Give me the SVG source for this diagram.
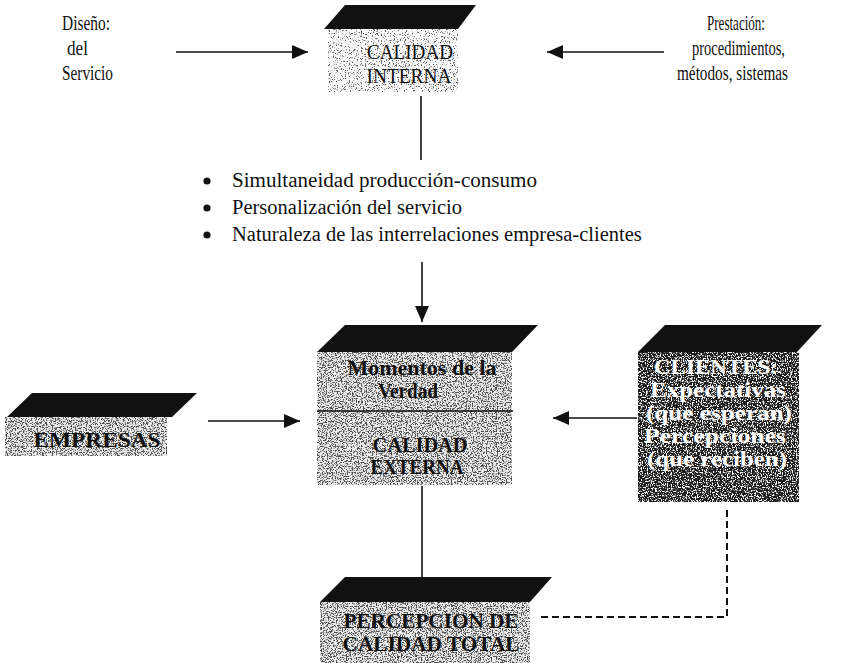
<svg xmlns="http://www.w3.org/2000/svg" width="849" height="663" viewBox="0 0 849 663">
  <defs>
    <style>
      .cap { font-family: "Liberation Serif", "Times New Roman", serif; font-size: 21px; fill: #111; }
      .bul { font-family: "Liberation Serif", "Times New Roman", serif; font-size: 20.5px; fill: #111; }
      .lbl { font-family: "Liberation Serif", "Times New Roman", serif; font-size: 20px; fill: #111; text-anchor: middle; }
      .bold { font-weight: bold; }
      .inv { fill: #fff; font-weight: bold; }
      .lid { fill: #111; }
      .edge { stroke: #111; stroke-width: 1.6; fill: none; }
      .dash { stroke: #111; stroke-width: 2; fill: none; stroke-dasharray: 7 4; }
    </style>
    <marker id="head" viewBox="0 0 16 14" refX="16" refY="7" markerWidth="16" markerHeight="14" markerUnits="userSpaceOnUse" orient="auto">
      <path d="M0,0 L16,7 L0,14 z" fill="#111"/>
    </marker>
    <!-- speckled scan-like fills for the slab faces -->
    <filter id="grainSparse" x="0" y="0" width="1" height="1" color-interpolation-filters="sRGB">
      <feTurbulence type="fractalNoise" baseFrequency="0.75" numOctaves="2" seed="4" result="n"/>
      <feColorMatrix in="n" type="matrix" values="0 0 0 0 0.35  0 0 0 0 0.35  0 0 0 0 0.35  8 0 0 0 -4.6" result="d"/>
      <feComposite in="d" in2="SourceGraphic" operator="in"/>
    </filter>
    <filter id="grainDense" x="0" y="0" width="1" height="1" color-interpolation-filters="sRGB">
      <feTurbulence type="fractalNoise" baseFrequency="0.8" numOctaves="2" seed="11" result="n"/>
      <feColorMatrix in="n" type="matrix" values="0 0 0 0 0.3  0 0 0 0 0.3  0 0 0 0 0.3  8 0 0 0 -3.9" result="d"/>
      <feComposite in="d" in2="SourceGraphic" operator="in"/>
    </filter>
    <filter id="grainLightDots" x="0" y="0" width="1" height="1" color-interpolation-filters="sRGB">
      <feTurbulence type="fractalNoise" baseFrequency="0.8" numOctaves="2" seed="19" result="n"/>
      <feColorMatrix in="n" type="matrix" values="0 0 0 0 1  0 0 0 0 1  0 0 0 0 1  8 0 0 0 -4.0" result="d"/>
      <feComposite in="d" in2="SourceGraphic" operator="in"/>
    </filter>
  </defs>

  <rect width="849" height="663" fill="#fff"/>

  <!-- side captions -->
  <g id="diseno">
    <text class="cap" x="62" y="30" textLength="48" lengthAdjust="spacingAndGlyphs">Diseño:</text>
    <text class="cap" x="67" y="55" textLength="21" lengthAdjust="spacingAndGlyphs">del</text>
    <text class="cap" x="62" y="80" textLength="51" lengthAdjust="spacingAndGlyphs">Servicio</text>
  </g>
  <g id="prestacion">
    <text class="cap" x="707" y="30" textLength="58" lengthAdjust="spacingAndGlyphs">Prestación:</text>
    <text class="cap" x="692" y="55" textLength="93" lengthAdjust="spacingAndGlyphs">procedimientos,</text>
    <text class="cap" x="677" y="80" textLength="111" lengthAdjust="spacingAndGlyphs">métodos, sistemas</text>
  </g>

  <!-- CALIDAD INTERNA -->
  <g id="calidad-interna">
    <rect x="328" y="29" width="130" height="63" fill="#fafafa"/>
    <rect x="328" y="29" width="130" height="63" fill="#000" filter="url(#grainSparse)"/>
    <polygon class="lid" points="324,29 345,5 476,5 458,29"/>
    <text class="lbl" x="410" y="59" textLength="86" lengthAdjust="spacingAndGlyphs">CALIDAD</text>
    <text class="lbl" x="409" y="83" textLength="85" lengthAdjust="spacingAndGlyphs">INTERNA</text>
  </g>

  <!-- factors list -->
  <g id="factores">
    <circle cx="207" cy="181" r="3.6" fill="#111"/>
    <circle cx="207" cy="208" r="3.6" fill="#111"/>
    <circle cx="207" cy="235" r="3.6" fill="#111"/>
    <text class="bul" x="232" y="187" textLength="305" lengthAdjust="spacingAndGlyphs">Simultaneidad producción-consumo</text>
    <text class="bul" x="232" y="214">Personalización del servicio</text>
    <text class="bul" x="232" y="241">Naturaleza de las interrelaciones empresa-clientes</text>
  </g>

  <!-- Momentos de la Verdad / CALIDAD EXTERNA -->
  <g id="calidad-externa">
    <rect x="317" y="352" width="195" height="133" fill="#ececec"/>
    <rect x="317" y="352" width="195" height="133" fill="#000" filter="url(#grainDense)"/>
    <polygon class="lid" points="317,352 345,325 538,325 512,352"/>
    <line class="edge" x1="317" y1="411" x2="513" y2="411"/>
    <text class="lbl bold" x="422" y="375" textLength="149" lengthAdjust="spacingAndGlyphs">Momentos de la</text>
    <text class="lbl bold" x="408" y="398" textLength="60" lengthAdjust="spacingAndGlyphs">Verdad</text>
    <text class="lbl bold" x="420" y="452" textLength="95" lengthAdjust="spacingAndGlyphs">CALIDAD</text>
    <text class="lbl bold" x="417" y="474" textLength="93" lengthAdjust="spacingAndGlyphs">EXTERNA</text>
  </g>

  <!-- EMPRESAS -->
  <g id="empresas">
    <rect x="5" y="417" width="162" height="39" fill="#ececec"/>
    <rect x="5" y="417" width="162" height="39" fill="#000" filter="url(#grainDense)"/>
    <polygon class="lid" points="7,417 32,393 197,393 172,417"/>
    <text class="lbl bold" x="97" y="447" textLength="127" lengthAdjust="spacingAndGlyphs">EMPRESAS</text>
  </g>

  <!-- CLIENTES -->
  <g id="clientes">
    <rect x="638" y="352" width="161" height="150" fill="#1c1c1c"/>
    <rect x="638" y="352" width="161" height="150" fill="#000" filter="url(#grainLightDots)"/>
    <polygon class="lid" points="638,352 665,325 822,325 797,352"/>
    <text class="lbl inv" x="716" y="374" textLength="124" lengthAdjust="spacingAndGlyphs">CLIENTES:</text>
    <text class="lbl inv" x="718" y="397" textLength="136" lengthAdjust="spacingAndGlyphs">Expectativas</text>
    <text class="lbl inv" x="719" y="420" textLength="146" lengthAdjust="spacingAndGlyphs">(que esperan)</text>
    <text class="lbl inv" x="715" y="443" textLength="142" lengthAdjust="spacingAndGlyphs">Percepciones</text>
    <text class="lbl inv" x="717" y="466" textLength="140" lengthAdjust="spacingAndGlyphs">(que reciben)</text>
  </g>

  <!-- PERCEPCION DE CALIDAD TOTAL -->
  <g id="percepcion">
    <rect x="320" y="602" width="210" height="61" fill="#ececec"/>
    <rect x="320" y="602" width="210" height="61" fill="#000" filter="url(#grainDense)"/>
    <polygon class="lid" points="320,602 345,577 552,577 530,602"/>
    <text class="lbl bold" x="431" y="628" textLength="175" lengthAdjust="spacingAndGlyphs">PERCEPCION DE</text>
    <text class="lbl bold" x="431" y="651" textLength="177" lengthAdjust="spacingAndGlyphs">CALIDAD TOTAL</text>
  </g>

  <!-- connectors -->
  <g id="connectors">
    <line class="edge" x1="176" y1="52" x2="308" y2="52" marker-end="url(#head)"/>
    <line class="edge" x1="664" y1="52" x2="547" y2="52" marker-end="url(#head)"/>
    <line class="edge" x1="421" y1="96" x2="421" y2="160"/>
    <line class="edge" x1="422" y1="262" x2="422" y2="322" marker-end="url(#head)"/>
    <line class="edge" x1="208" y1="421" x2="300" y2="421" marker-end="url(#head)"/>
    <line class="edge" x1="637" y1="418" x2="553" y2="418" marker-end="url(#head)"/>
    <line class="edge" x1="422" y1="486" x2="422" y2="577"/>
    <path class="dash" d="M727,510 V617 H540"/>
  </g>
</svg>
